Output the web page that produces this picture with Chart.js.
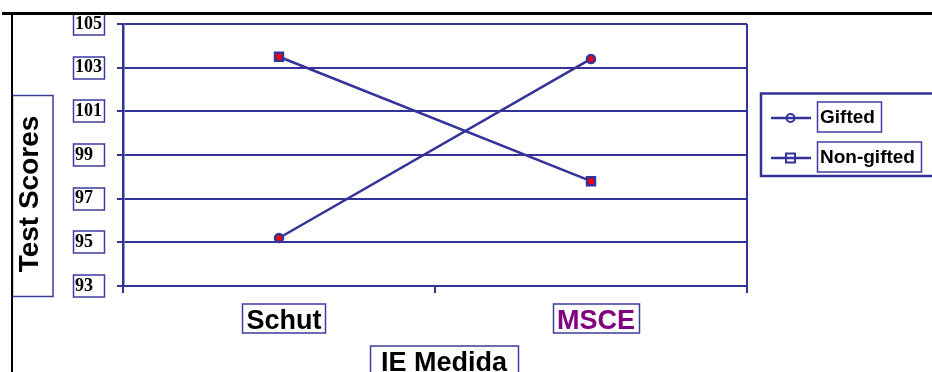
<!DOCTYPE html>
<html>
<head>
<meta charset="utf-8">
<script src="https://cdn.jsdelivr.net/npm/chart.js@4/dist/chart.umd.min.js"></script>
<style>
  html, body { margin: 0; padding: 0; background: #ffffff; }
  #wrap { width: 932px; height: 372px; position: relative; overflow: hidden; }
</style>
</head>
<body>
<div id="wrap"><canvas id="c" width="932" height="372"></canvas></div>
<script>
// Scores per group and instrument
const categories = ['Schut', 'MSCE'];
const seriesNames = ['Gifted', 'Non-gifted'];
const giftedScores = [95.2, 103.4];
const nonGiftedScores = [103.5, 97.8];
const yTickValues = [93, 95, 97, 99, 101, 103, 105];
const yAxisTitle = 'Test Scores';
const xAxisTitle = 'IE Medida';

const NAVY = '#333399';
const BOX = '#3d3d9e';
const SANS = '"Liberation Sans", Arial, sans-serif';
const SERIF = '"Liberation Serif", "Times New Roman", serif';
const categoryColors = ['#000000', '#800080'];

// Boxes, titles, legend and page rules drawn around the plot
const decorations = {
  id: 'decorations',
  afterDraw(chart) {
    const ctx = chart.ctx;
    const area = chart.chartArea;
    const ys = chart.scales.y;
    const xs = chart.scales.x;
    ctx.save();

    // right edge of the plot frame
    ctx.strokeStyle = NAVY;
    ctx.lineWidth = 2;
    ctx.beginPath();
    ctx.moveTo(area.right, area.top);
    ctx.lineTo(area.right, area.bottom);
    ctx.stroke();

    // boxes around y tick labels
    ctx.strokeStyle = BOX;
    ctx.lineWidth = 1.5;
    ys.ticks.forEach((t) => {
      const y = ys.getPixelForValue(t.value);
      ctx.strokeRect(73.5, Math.round(y) - 11, 31, 22);
    });

    // boxes around category labels
    ctx.font = 'bold 27px ' + SANS;
    xs.ticks.forEach((t, i) => {
      const x = xs.getPixelForTick(i) + 5;
      const w = ctx.measureText(categories[i]).width;
      ctx.strokeRect(Math.round(x - w / 2 - 4) + 0.5, 304, Math.round(w + 8), 29);
    });

    // y axis title
    ctx.strokeRect(12.5, 95.5, 40.5, 201);
    ctx.fillStyle = '#000000';
    ctx.font = 'bold 28px ' + SANS;
    ctx.save();
    ctx.translate(38, 194);
    ctx.rotate(-Math.PI / 2);
    ctx.textAlign = 'center';
    ctx.textBaseline = 'alphabetic';
    ctx.fillText(yAxisTitle, 0, 0);
    ctx.restore();

    // x axis title
    ctx.strokeRect(370.5, 346, 148, 40);
    ctx.font = 'bold 27px ' + SANS;
    ctx.textAlign = 'center';
    ctx.textBaseline = 'alphabetic';
    ctx.fillText(xAxisTitle, 444, 371);

    // legend
    ctx.lineWidth = 2.5;
    ctx.strokeStyle = NAVY;
    ctx.strokeRect(761, 93.5, 176, 82.5);
    const rows = [118, 158];
    chart.data.datasets.forEach((ds, i) => {
      const y = rows[i];
      ctx.strokeStyle = NAVY;
      ctx.lineWidth = 2.5;
      ctx.beginPath();
      ctx.moveTo(771, y);
      ctx.lineTo(811, y);
      ctx.stroke();
      ctx.lineWidth = 2;
      ctx.beginPath();
      if (ds.pointStyle === 'rect') {
        ctx.rect(786, y - 4.5, 9, 9);
      } else {
        ctx.arc(790.5, y, 4, 0, Math.PI * 2);
      }
      ctx.stroke();
      ctx.font = 'bold 19px ' + SANS;
      const w = ctx.measureText(ds.label).width;
      ctx.strokeStyle = BOX;
      ctx.lineWidth = 1.5;
      ctx.strokeRect(817.5, y - 16, Math.round(w + 9), 30);
      ctx.fillStyle = '#000000';
      ctx.textAlign = 'left';
      ctx.fillText(ds.label, 820, y + 5);
    });

    // page rules
    ctx.strokeStyle = '#000000';
    ctx.lineWidth = 3;
    ctx.beginPath();
    ctx.moveTo(2, 13.5);
    ctx.lineTo(932, 13.5);
    ctx.stroke();
    ctx.lineWidth = 2;
    ctx.beginPath();
    ctx.moveTo(12, 13);
    ctx.lineTo(12, 372);
    ctx.stroke();

    ctx.restore();
  }
};

new Chart(document.getElementById('c'), {
  type: 'line',
  data: {
    labels: categories,
    datasets: [
      {
        label: seriesNames[0],
        data: giftedScores,
        borderColor: NAVY,
        borderWidth: 2.5,
        pointStyle: 'circle',
        pointRadius: 4,
        pointBorderWidth: 2.5,
        pointBackgroundColor: '#ff0000',
        pointBorderColor: NAVY,
        tension: 0
      },
      {
        label: seriesNames[1],
        data: nonGiftedScores,
        borderColor: NAVY,
        borderWidth: 2.5,
        pointStyle: 'rect',
        pointRadius: 5.6,
        pointBorderWidth: 2.5,
        pointBackgroundColor: '#ff0000',
        pointBorderColor: NAVY,
        tension: 0
      }
    ]
  },
  options: {
    responsive: false,
    animation: false,
    devicePixelRatio: 1,
    layout: { padding: { left: 75, top: 24, right: 185, bottom: 0 } },
    plugins: { legend: { display: false }, tooltip: { enabled: false } },
    scales: {
      x: {
        type: 'category',
        offset: true,
        grid: { display: true, offset: true, drawOnChartArea: false, drawTicks: true, tickLength: 7, color: NAVY, lineWidth: 2 },
        border: { display: true, color: NAVY, width: 2 },
        ticks: {
          font: { family: SANS, size: 27, weight: 'bold' },
          color: (c) => categoryColors[c.index],
          padding: 12,
          labelOffset: 5,
          maxRotation: 0
        },
        afterFit(scale) { scale.height = 86; }
      },
      y: {
        min: 93,
        max: 105,
        afterBuildTicks(scale) { scale.ticks = yTickValues.map((v) => ({ value: v })); },
        grid: { color: NAVY, lineWidth: 2, tickLength: 6, drawTicks: true },
        border: { display: true, color: NAVY, width: 2.5 },
        ticks: {
          font: { family: SERIF, size: 18, weight: 'bold' },
          color: '#000000',
          crossAlign: 'far',
          padding: 0
        },
        afterFit(scale) { scale.width = 48; }
      }
    }
  },
  plugins: [decorations]
});
</script>
</body>
</html>
